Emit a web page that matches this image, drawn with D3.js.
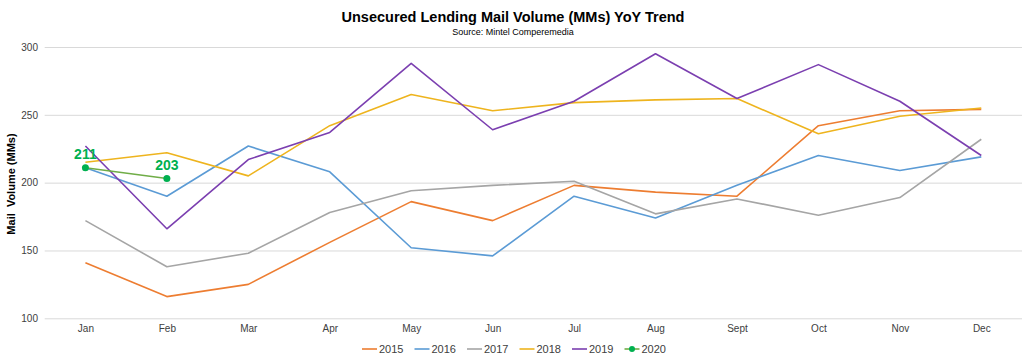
<!DOCTYPE html>
<html>
<head>
<meta charset="utf-8">
<script src="https://cdn.jsdelivr.net/npm/d3@7"></script>
<style>
  body { margin: 0; background: #fff; }
  svg { font-family: "Liberation Sans", Arial, sans-serif; display: block; }
  .grid line { stroke: #d9d9d9; stroke-width: 1; }
  .axis text { fill: #404040; font-size: 10px; }
</style>
</head>
<body>
<svg width="1024" height="364"></svg>
<script>
var months = ["Jan", "Feb", "Mar", "Apr", "May", "Jun", "Jul", "Aug", "Sept", "Oct", "Nov", "Dec"];
var yTicks = [100, 150, 200, 250, 300];

var v2015 = [141, 116, 125, 156, 186, 172, 198, 193, 190, 242, 253, 254];
var v2016 = [211, 190, 227, 208, 152, 146, 190, 174, 198, 220, 209, 219];
var v2017 = [172, 138, 148, 178, 194, 198, 201, 177, 188, 176, 189, 232];
var v2018 = [215, 222, 205, 242, 265, 253, 259, 261, 262, 236, 249, 255];
var v2019 = [227, 166, 217, 237, 288, 239, 260, 295, 262, 287, 260, 220];
var v2020 = [211, 203];

var seriesNames = ["2015", "2016", "2017", "2018", "2019", "2020"];
var seriesValues = [v2015, v2016, v2017, v2018, v2019, v2020];
var colors = ["#ed7d31", "#5b9bd5", "#a5a5a5", "#eeb41e", "#7b3fb0", "#70ad47"];

var svg = d3.select("svg");

var x = d3.scalePoint()
    .domain(months)
    .range([44.7, 1022])
    .padding(0.5);

var y = d3.scaleLinear()
    .domain([100, 300])
    .range([318.3, 47]);

// gridlines
svg.append("g")
    .attr("class", "grid")
  .selectAll("line")
  .data(yTicks)
  .enter().append("line")
    .attr("x1", 44.7)
    .attr("x2", 1022)
    .attr("y1", function(d) { return y(d) + 0.5; })
    .attr("y2", function(d) { return y(d) + 0.5; });

// y axis labels
svg.append("g")
    .attr("class", "axis")
    .attr("transform", "translate(38,0)")
    .call(d3.axisLeft(y).tickValues(yTicks).tickSize(0).tickPadding(0))
    .call(function(g) { g.select(".domain").remove(); });

// x axis labels
svg.append("g")
    .attr("class", "axis")
    .attr("transform", "translate(0,325)")
    .call(d3.axisBottom(x).tickSize(0).tickPadding(0))
    .call(function(g) { g.select(".domain").remove(); });

svg.append("text")
    .attr("transform", "translate(15,184) rotate(-90)")
    .attr("text-anchor", "middle")
    .attr("font-size", 11)
    .attr("font-weight", "bold")
    .attr("fill", "#000")
    .attr("xml:space", "preserve")
    .text("Mail  Volume (MMs)");

// title
svg.append("text")
    .attr("x", 513)
    .attr("y", 22)
    .attr("text-anchor", "middle")
    .attr("font-size", 14.5)
    .attr("font-weight", "bold")
    .attr("fill", "#000")
    .text("Unsecured Lending Mail Volume (MMs) YoY Trend");

svg.append("text")
    .attr("x", 513)
    .attr("y", 35)
    .attr("text-anchor", "middle")
    .attr("font-size", 9)
    .attr("fill", "#000")
    .text("Source: Mintel Comperemedia");

var line = d3.line()
    .x(function(d, i) { return x(months[i]); })
    .y(function(d) { return y(d); });

svg.append("g")
  .selectAll("path")
  .data(seriesValues)
  .enter().append("path")
    .attr("fill", "none")
    .attr("stroke", function(d, i) { return colors[i]; })
    .attr("stroke-width", 1.6)
    .attr("stroke-linejoin", "round")
    .attr("d", line);

// 2020 markers and labels
svg.append("g")
  .selectAll("circle")
  .data(v2020)
  .enter().append("circle")
    .attr("cx", function(d, i) { return x(months[i]); })
    .attr("cy", function(d) { return y(d); })
    .attr("r", 3.5)
    .attr("fill", "#00b050");

svg.append("g")
  .selectAll("text")
  .data(v2020)
  .enter().append("text")
    .attr("x", function(d, i) { return x(months[i]); })
    .attr("y", function(d) { return y(d) - 9; })
    .attr("text-anchor", "middle")
    .attr("font-size", 14)
    .attr("font-weight", "bold")
    .attr("fill", "#00b050")
    .text(function(d) { return d; });

// legend
var legend = svg.append("g")
  .selectAll("g")
  .data(seriesNames)
  .enter().append("g")
    .attr("transform", function(d, i) { return "translate(" + (362 + i * 52.5) + ",349)"; });

legend.append("line")
    .attr("x1", 0)
    .attr("x2", 15)
    .attr("stroke", function(d, i) { return colors[i]; })
    .attr("stroke-width", 1.6);

legend.filter(function(d) { return d === "2020"; })
  .append("circle")
    .attr("cx", 7.5)
    .attr("r", 3)
    .attr("fill", "#00b050");

legend.append("text")
    .attr("x", 17)
    .attr("dy", "0.35em")
    .attr("font-size", 11)
    .attr("fill", "#404040")
    .text(function(d) { return d; });
</script>
</body>
</html>
